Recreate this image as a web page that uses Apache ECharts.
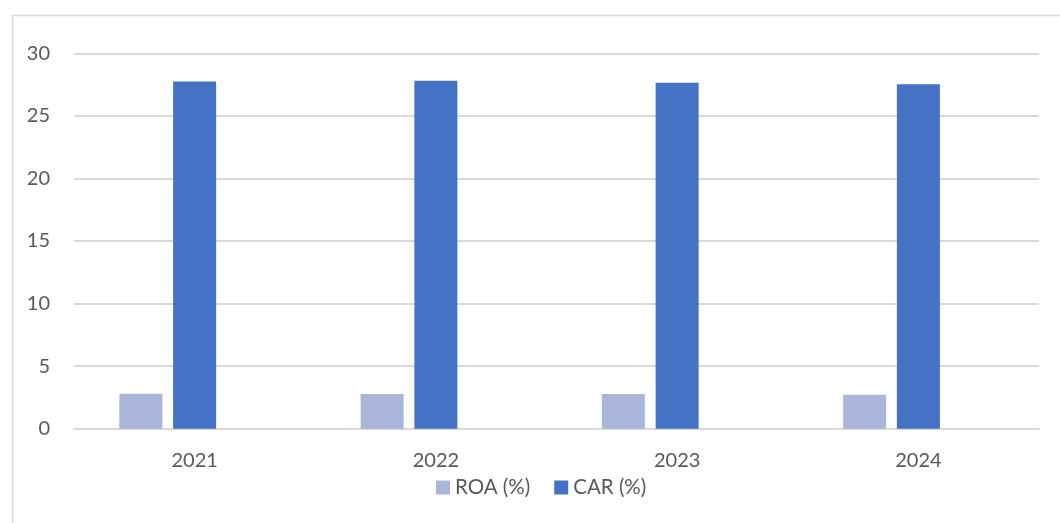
<!DOCTYPE html>
<html>
<head>
<meta charset="utf-8">
<script src="https://cdn.jsdelivr.net/npm/echarts@6/dist/echarts.min.js"></script>
<style>
html,body{margin:0;padding:0;background:#fff;}
#c{width:1060px;height:523px;}
</style>
</head>
<body>
<div id="c"></div>
<script>
const categories = ['2021', '2022', '2023', '2024'];
const roa = [2.8, 2.78, 2.78, 2.72];
const car = [27.74, 27.8, 27.65, 27.52];
const yTicks = [0, 5, 10, 15, 20, 25, 30];

const chart = echarts.init(document.getElementById('c'));
const font = 'Lato, "Open Sans", sans-serif';
chart.setOption({
  animation: false,
  textStyle: { fontFamily: font },
  graphic: [{
    type: 'rect', left: 10, top: 13, silent: true,
    shape: { width: 1100, height: 560 },
    style: { fill: 'none', stroke: '#d9d9d9', lineWidth: 1.5 }
  }],
  grid: { left: 74, right: 21, top: 53.3, bottom: 94.3, containLabel: false },
  legend: {
    data: ['ROA (%)', 'CAR (%)'],
    bottom: 20, left: 431,
    itemWidth: 14, itemHeight: 14, itemGap: 24,
    icon: 'rect',
    textStyle: { color: '#595959', fontSize: 20.5, fontFamily: font }
  },
  xAxis: {
    type: 'category', data: categories,
    axisLine: { lineStyle: { color: '#d9d9d9', width: 2 } },
    axisTick: { show: false },
    axisLabel: { color: '#595959', fontSize: 20, margin: 22, fontFamily: font }
  },
  yAxis: {
    type: 'value', min: yTicks[0], max: yTicks[yTicks.length - 1], interval: 5,
    axisLine: { show: false }, axisTick: { show: false },
    splitLine: { lineStyle: { color: '#d9d9d9', width: 2 } },
    axisLabel: { color: '#595959', fontSize: 20, margin: 24, fontFamily: font }
  },
  series: [
    { name: 'ROA (%)', type: 'bar', data: roa, barWidth: 43, barGap: '25%', itemStyle: { color: '#a9b6da' } },
    { name: 'CAR (%)', type: 'bar', data: car, barWidth: 43, barGap: '25%', itemStyle: { color: '#4472c4' } },
    { name: '_blank', type: 'bar', data: [], barWidth: 43, barGap: '25%' }
  ]
});
</script>
</body>
</html>
